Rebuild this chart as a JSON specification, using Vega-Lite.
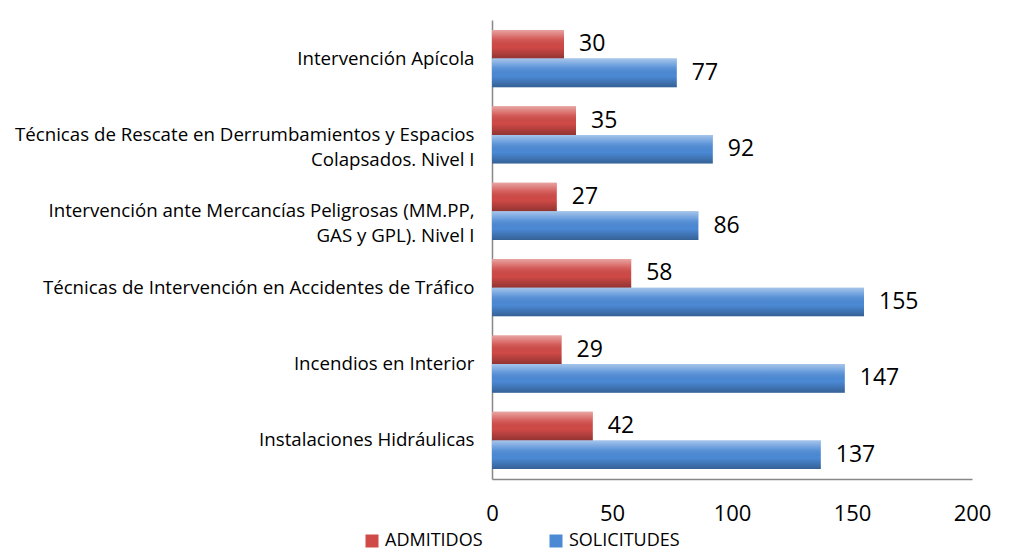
{
  "$schema": "https://vega.github.io/schema/vega-lite/v6.json",
  "width": 480,
  "height": 459,
  "autosize": {"type": "none"},
  "padding": {"left": 492, "top": 20, "right": 41, "bottom": 72},
  "background": "white",
  "config": {"view": {"stroke": null}, "font": "Open Sans"},
  "data": {
    "values": [
      {"curso": "Intervención Apícola", "serie": "ADMITIDOS", "valor": 30},
      {"curso": "Intervención Apícola", "serie": "SOLICITUDES", "valor": 77},
      {"curso": "Técnicas de Rescate en Derrumbamientos y Espacios|Colapsados. Nivel I", "serie": "ADMITIDOS", "valor": 35},
      {"curso": "Técnicas de Rescate en Derrumbamientos y Espacios|Colapsados. Nivel I", "serie": "SOLICITUDES", "valor": 92},
      {"curso": "Intervención ante Mercancías Peligrosas (MM.PP,|GAS y GPL). Nivel I", "serie": "ADMITIDOS", "valor": 27},
      {"curso": "Intervención ante Mercancías Peligrosas (MM.PP,|GAS y GPL). Nivel I", "serie": "SOLICITUDES", "valor": 86},
      {"curso": "Técnicas de Intervención en Accidentes de Tráfico", "serie": "ADMITIDOS", "valor": 58},
      {"curso": "Técnicas de Intervención en Accidentes de Tráfico", "serie": "SOLICITUDES", "valor": 155},
      {"curso": "Incendios en Interior", "serie": "ADMITIDOS", "valor": 29},
      {"curso": "Incendios en Interior", "serie": "SOLICITUDES", "valor": 147},
      {"curso": "Instalaciones Hidráulicas", "serie": "ADMITIDOS", "valor": 42},
      {"curso": "Instalaciones Hidráulicas", "serie": "SOLICITUDES", "valor": 137}
    ]
  },
  "encoding": {
    "y": {
      "field": "curso",
      "type": "nominal",
      "sort": [
        "Intervención Apícola",
        "Técnicas de Rescate en Derrumbamientos y Espacios|Colapsados. Nivel I",
        "Intervención ante Mercancías Peligrosas (MM.PP,|GAS y GPL). Nivel I",
        "Técnicas de Intervención en Accidentes de Tráfico",
        "Incendios en Interior",
        "Instalaciones Hidráulicas"
      ],
      "scale": {"paddingInner": 0.25, "paddingOuter": 0.13},
      "axis": {
        "title": null,
        "ticks": false,
        "domainColor": "#888888",
        "domainWidth": 1.5,
        "labelPadding": 18,
        "labelFontSize": 18.7,
        "labelColor": "#000000",
        "labelLineHeight": 25,
        "labelLimit": 0,
        "labelExpr": "split(datum.label, '|')"
      }
    },
    "yOffset": {
      "field": "serie",
      "type": "nominal",
      "sort": ["ADMITIDOS", "SOLICITUDES"],
      "scale": {"paddingInner": 0, "paddingOuter": 0}
    },
    "x": {
      "field": "valor",
      "type": "quantitative",
      "scale": {"domain": [0, 200]},
      "axis": {
        "title": null,
        "values": [0, 50, 100, 150, 200],
        "ticks": false,
        "grid": false,
        "domainColor": "#888888",
        "domainWidth": 1.5,
        "labelFontSize": 22,
        "labelColor": "#000000",
        "labelPadding": 24,
        "labelFlush": false
      }
    }
  },
  "layer": [
    {
      "mark": {"type": "bar"},
      "encoding": {
        "color": {
          "field": "serie",
          "type": "nominal",
          "scale": {"domain": ["ADMITIDOS", "SOLICITUDES"], "range": ["#D04A47", "#4C8AD6"]},
          "legend": {
            "title": null,
            "orient": "none",
            "direction": "horizontal",
            "legendX": -129,
            "legendY": 512,
            "symbolType": "square",
            "symbolSize": 169,
            "symbolStrokeWidth": 0,
            "symbolOpacity": 1,
            "labelFontSize": 18,
            "labelColor": "#000000",
            "labelOffset": 4,
            "columnPadding": 64
          }
        }
      }
    },
    {
      "mark": {
        "type": "bar",
        "fill": {
          "gradient": "linear",
          "x1": 0, "y1": 0, "x2": 0, "y2": 1,
          "stops": [
            {"offset": 0, "color": "rgba(255,255,255,0.5)"},
            {"offset": 0.3, "color": "rgba(255,255,255,0.12)"},
            {"offset": 0.6, "color": "rgba(0,0,0,0)"},
            {"offset": 1, "color": "rgba(0,0,0,0.3)"}
          ]
        }
      }
    },
    {
      "mark": {"type": "text", "align": "left", "baseline": "middle", "dx": 15, "fontSize": 23, "color": "#000000"},
      "encoding": {"text": {"field": "valor", "type": "quantitative"}}
    }
  ]
}
